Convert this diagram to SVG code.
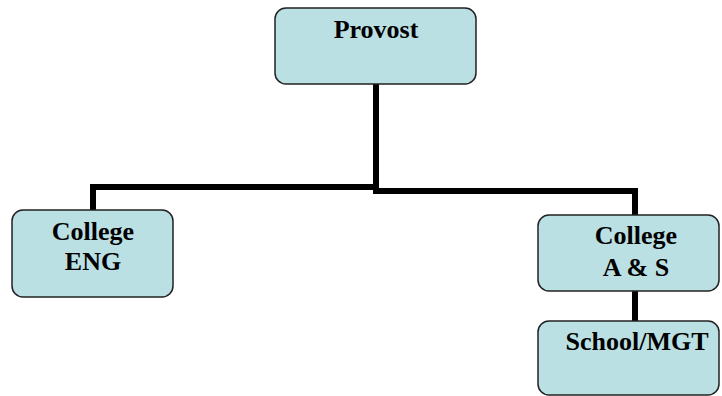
<svg xmlns="http://www.w3.org/2000/svg" width="722" height="396" viewBox="0 0 722 396">
<style>
.box{fill:#bbe0e3;stroke:#222;stroke-width:1.5}
.lbl{font-family:"Liberation Serif","Times New Roman",serif;font-weight:bold;font-size:26px;fill:#000;text-anchor:middle}
.conn{fill:none;stroke:#000;stroke-width:6;stroke-linejoin:miter;stroke-linecap:square}
</style>
<rect width="722" height="396" fill="#fff"/>
<g id="connectors">
<polyline class="conn" points="376,85 376,187 93,187 93,209"/>
<polyline class="conn" points="376,187 376,191 635,191 635,214"/>
<line class="conn" x1="635" y1="292" x2="635" y2="320"/>
</g>
<g id="provost">
<rect class="box" x="275" y="8" width="201" height="76" rx="11"/>
<text class="lbl" x="376" y="38">Provost</text>
</g>
<g id="college-eng">
<rect class="box" x="12" y="210" width="161" height="87" rx="11"/>
<text class="lbl" x="93" y="240">College</text>
<text class="lbl" x="93" y="270">ENG</text>
</g>
<g id="college-as">
<rect class="box" x="538" y="215" width="181" height="76" rx="11"/>
<text class="lbl" x="636" y="244">College</text>
<text class="lbl" x="636" y="276">A &amp; S</text>
</g>
<g id="school-mgt">
<rect class="box" x="538" y="321" width="181" height="74" rx="11"/>
<text class="lbl" x="637" y="350">School/MGT</text>
</g>
</svg>
